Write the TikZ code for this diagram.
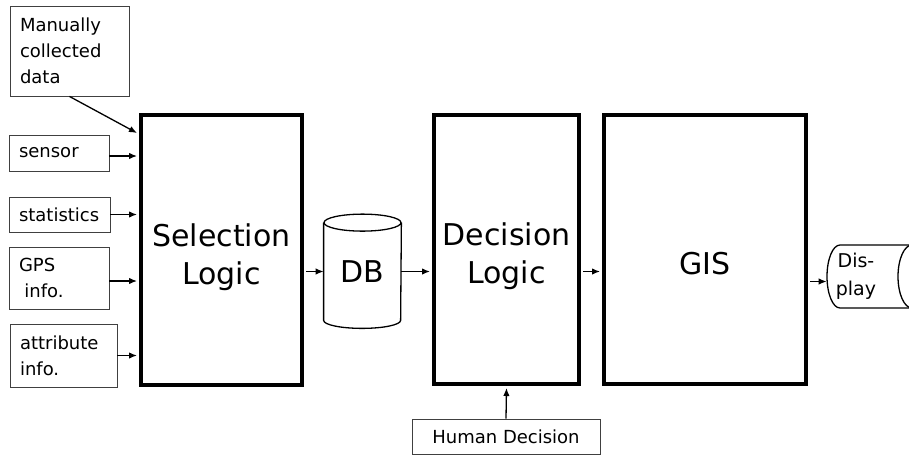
\documentclass[tikz,border=0pt]{standalone}
\usepackage{fontspec}
\setmainfont{DejaVu Sans}
\usetikzlibrary{arrows.meta,calc}

\tikzset{every picture/.style={line width=0.75pt}}
\tikzset{
  inbox/.style={draw=black!75, line width=0.9pt, inner sep=0pt, align=left, font=\fontsize{18}{26}\selectfont},
  logic/.style={draw, line width=4pt, inner sep=0pt},
  logictext/.style={inner sep=0pt, align=center, font=\fontsize{30}{38}\selectfont},
  conn/.style={-{Latex[length=8pt,width=6.5pt]}, line width=1.3pt},
}

\begin{document}
\begin{tikzpicture}[x=1pt,y=1pt,yscale=-1]
\useasboundingbox (0,0) rectangle (909,455);
\clip (0,0) rectangle (909,455);

%Input boxes
\node [inbox, minimum width=119pt, minimum height=90pt, text width=99pt] (manual) at (69.5,51) {Manually\\collected\\data};
\node [inbox, minimum width=100pt, minimum height=36pt, text width=80pt] (sensor) at (59,153) {sensor};
\node [inbox, minimum width=101pt, minimum height=35pt, text width=81pt] (stats) at (59.5,214.5) {statistics};
\node [inbox, minimum width=100pt, minimum height=62pt, text width=80pt] (gps) at (59,278) {GPS\\\hspace{0.3em}info.};
\node [inbox, minimum width=107pt, minimum height=63pt, text width=87pt] (attr) at (63.5,355.5) {attribute\\info.};

%Logic blocks
\node [logic, minimum width=161pt, minimum height=270pt] (sel) at (221.5,250) {};
\node [logic, minimum width=145pt, minimum height=269pt] (dec) at (506.5,249.5) {};
\node [logic, minimum width=202pt, minimum height=269pt] (gis) at (705,249.5) {};
% Text Node
\node [logictext] (selT) at ($(sel.center)+(0,7)$) {Selection\\Logic};
\node [logictext] (decT) at ($(dec.center)+(0,7)$) {Decision\\Logic};
\node [logictext] (gisT) at ($(gis.center)+(0,14)$) {GIS};

%Shape: Can [DB]
\node [minimum width=77pt, minimum height=97pt, inner sep=0pt, font=\fontsize{30}{36}\selectfont] (db) at (362.5,271.5) {DB};
\draw [line width=1.3pt] (db.north west) -- (db.south west) arc [start angle=180, end angle=0, x radius=38.5, y radius=8] -- (db.north east);
\draw [line width=1.3pt] (db.north) ellipse [x radius=38.5, y radius=8.5];

%Shape: Display
\node [minimum width=56pt, minimum height=63pt, inner sep=0pt, align=center, font=\fontsize{19}{28}\selectfont] (disp) at (856,276.5) {Dis-\\play};
\draw [line width=1.3pt] (912,245) -- (840,245) arc [start angle=270, end angle=90, x radius=13, y radius=31.5] -- (912,308);
\draw [line width=1.3pt] (912,276.5) ellipse [x radius=14, y radius=31.5];

% Text Node
\node [inbox, minimum width=188pt, minimum height=35pt, align=center] (human) at (506,436.5) {Human Decision};

%Connectors
\draw [conn] (manual.south) -- ($(sel.north west)+(-2,20)$);
\draw [conn] ($(sensor.east)+(0,3)$) -- ($(sensor.east -| sel.west)+(-2,3)$);
\draw [conn] (stats.east) -- ($(stats.east -| sel.west)+(-2,0)$);
\draw [conn] ($(gps.east)+(0,3)$) -- ($(gps.east -| sel.west)+(-2,3)$);
\draw [conn] (attr.east) -- ($(attr.east -| sel.west)+(-2,0)$);
\draw [conn] ($(db.west -| sel.east)+(2,0)$) -- (db.west);
\draw [conn] (db.east) -- ($(db.east -| dec.west)+(-2,0)$);
\draw [conn] ($(db.east -| dec.east)+(2,0)$) -- ($(db.east -| gis.west)+(-2,0)$);
\draw [conn] ($(disp.west -| gis.east)+(2,5)$) -- ($(disp.west)+(-1,5)$);
\draw [conn] (human.north) -- ($(dec.south)+(0,2)$);

\end{tikzpicture}
\end{document}
